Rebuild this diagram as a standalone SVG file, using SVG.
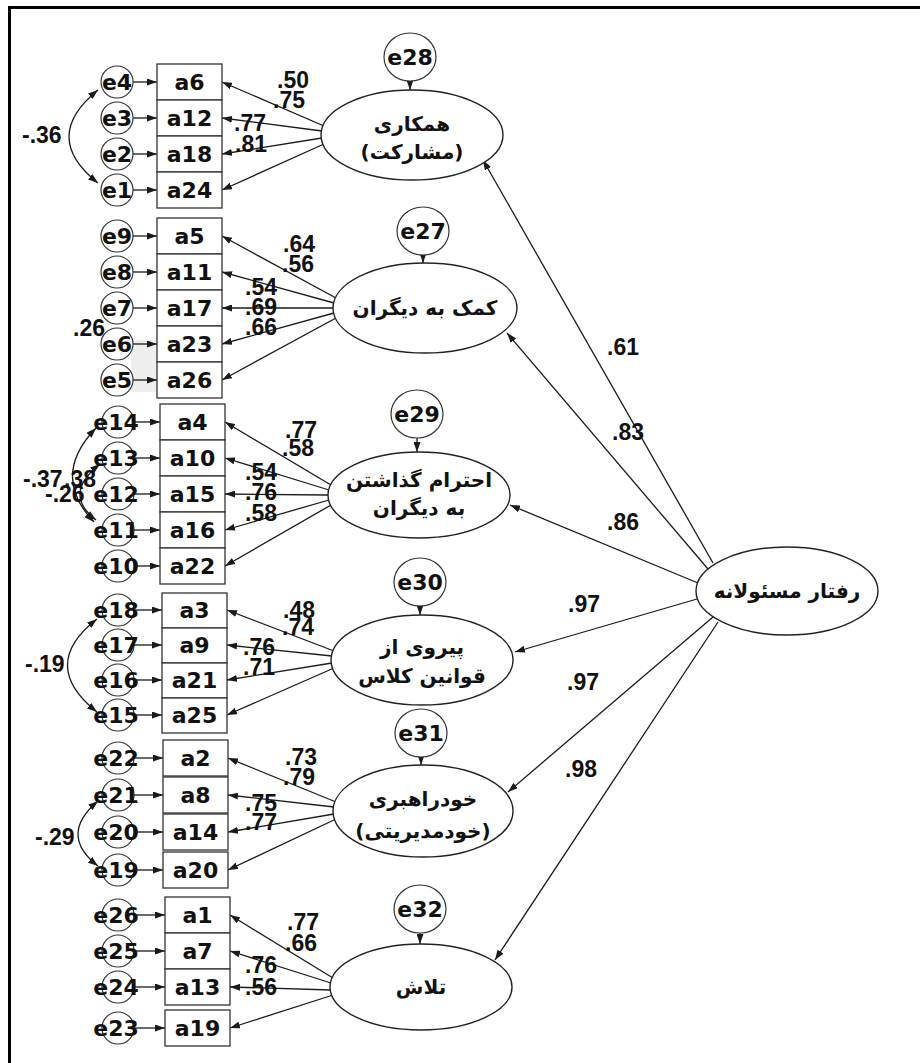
<svg xmlns="http://www.w3.org/2000/svg" width="920" height="1063" viewBox="0 0 920 1063">
<style>
.ln{stroke:#1a1a1a;stroke-width:1.3;fill:none}
.ar{marker-end:url(#ah)}
.cv{stroke:#1a1a1a;stroke-width:1.3;fill:none;marker-start:url(#ah);marker-end:url(#ah)}
.box{fill:#fff;stroke:#333;stroke-width:1.3}
.ec{fill:#fff;stroke:#333;stroke-width:1.2}
.lat{fill:#fff;stroke:#222;stroke-width:1.4}
.t{font-family:"DejaVu Sans",sans-serif;font-weight:bold;font-size:22px;text-anchor:middle;fill:#111}
.w{font-family:"Liberation Sans",Arial,sans-serif;font-weight:bold;font-size:23px;fill:#111}
.fa{font-family:"DejaVu Sans",sans-serif;font-weight:bold;font-size:20px;text-anchor:middle;fill:#111}
</style>
<defs>
<marker id="ah" viewBox="0 0 10 7" refX="10" refY="3.5" markerWidth="10" markerHeight="7" markerUnits="userSpaceOnUse" orient="auto-start-reverse"><path d="M0,0 L10,3.5 L0,7 z" fill="#1a1a1a"/></marker>
</defs>
<rect width="920" height="1063" fill="#fff"/>
<g id="frame"><line x1="8" y1="7.5" x2="920" y2="7.5" stroke="#000" stroke-width="3"/><line x1="9.5" y1="6" x2="9.5" y2="1063" stroke="#000" stroke-width="3"/></g>
<rect x="131" y="340" width="26" height="52" fill="#eeeeee"/>
<g id="connectors">
<line class="ln ar" x1="713" y1="563" x2="483" y2="160"/>
<line class="ln ar" x1="708" y1="569" x2="507" y2="333"/>
<line class="ln ar" x1="698" y1="583" x2="510" y2="505"/>
<line class="ln ar" x1="697" y1="599" x2="515" y2="652"/>
<line class="ln ar" x1="713" y1="617" x2="508" y2="792"/>
<line class="ln ar" x1="718" y1="622" x2="495" y2="960"/>
<line class="ln ar" x1="410" y1="81" x2="410" y2="90"/>
<line class="ln ar" x1="423" y1="255" x2="423" y2="263"/>
<line class="ln ar" x1="417" y1="438" x2="417" y2="452"/>
<line class="ln ar" x1="420" y1="606" x2="420" y2="615"/>
<line class="ln ar" x1="421" y1="757" x2="421" y2="765"/>
<line class="ln ar" x1="420" y1="933" x2="420" y2="944"/>
<line class="ln ar" x1="324" y1="126" x2="222" y2="82"/>
<line class="ln ar" x1="322" y1="131" x2="222" y2="118"/>
<line class="ln ar" x1="322" y1="138" x2="222" y2="154"/>
<line class="ln ar" x1="324" y1="144" x2="222" y2="190"/>
<line class="ln ar" x1="336" y1="298" x2="222" y2="236"/>
<line class="ln ar" x1="334" y1="303" x2="222" y2="272"/>
<line class="ln ar" x1="333" y1="308" x2="222" y2="308"/>
<line class="ln ar" x1="334" y1="313" x2="222" y2="344"/>
<line class="ln ar" x1="336" y1="318" x2="222" y2="380"/>
<line class="ln ar" x1="331" y1="485" x2="225" y2="422"/>
<line class="ln ar" x1="329" y1="490" x2="225" y2="458"/>
<line class="ln ar" x1="328" y1="495" x2="225" y2="494"/>
<line class="ln ar" x1="329" y1="500" x2="225" y2="530"/>
<line class="ln ar" x1="331" y1="505" x2="225" y2="566"/>
<line class="ln ar" x1="334" y1="651" x2="227" y2="610"/>
<line class="ln ar" x1="332" y1="656" x2="227" y2="645"/>
<line class="ln ar" x1="332" y1="663" x2="227" y2="680"/>
<line class="ln ar" x1="334" y1="668" x2="227" y2="715"/>
<line class="ln ar" x1="336" y1="802" x2="228" y2="758"/>
<line class="ln ar" x1="334" y1="807" x2="228" y2="795"/>
<line class="ln ar" x1="334" y1="814" x2="228" y2="832"/>
<line class="ln ar" x1="336" y1="819" x2="228" y2="870"/>
<line class="ln ar" x1="333" y1="978" x2="230" y2="915"/>
<line class="ln ar" x1="331" y1="983" x2="230" y2="951"/>
<line class="ln ar" x1="331" y1="990" x2="230" y2="987"/>
<line class="ln ar" x1="333" y1="995" x2="230" y2="1028"/>
<line class="ln ar" x1="133" y1="82" x2="157" y2="82"/>
<line class="ln ar" x1="133" y1="118" x2="157" y2="118"/>
<line class="ln ar" x1="133" y1="154" x2="157" y2="154"/>
<line class="ln ar" x1="133" y1="190" x2="157" y2="190"/>
<line class="ln ar" x1="133" y1="236" x2="157" y2="236"/>
<line class="ln ar" x1="133" y1="272" x2="157" y2="272"/>
<line class="ln ar" x1="133" y1="308" x2="157" y2="308"/>
<line class="ln ar" x1="133" y1="344" x2="157" y2="344"/>
<line class="ln ar" x1="133" y1="380" x2="157" y2="380"/>
<line class="ln ar" x1="133" y1="422" x2="160" y2="422"/>
<line class="ln ar" x1="133" y1="458" x2="160" y2="458"/>
<line class="ln ar" x1="133" y1="494" x2="160" y2="494"/>
<line class="ln ar" x1="133" y1="530" x2="160" y2="530"/>
<line class="ln ar" x1="133" y1="566" x2="160" y2="566"/>
<line class="ln ar" x1="133" y1="610" x2="162" y2="610"/>
<line class="ln ar" x1="133" y1="645" x2="162" y2="645"/>
<line class="ln ar" x1="133" y1="680" x2="162" y2="680"/>
<line class="ln ar" x1="133" y1="715" x2="162" y2="715"/>
<line class="ln ar" x1="133" y1="758" x2="163" y2="758"/>
<line class="ln ar" x1="133" y1="795" x2="163" y2="795"/>
<line class="ln ar" x1="133" y1="832" x2="163" y2="832"/>
<line class="ln ar" x1="133" y1="870" x2="163" y2="870"/>
<line class="ln ar" x1="133" y1="915" x2="165" y2="915"/>
<line class="ln ar" x1="133" y1="951" x2="165" y2="951"/>
<line class="ln ar" x1="133" y1="987" x2="165" y2="987"/>
<line class="ln ar" x1="133" y1="1028" x2="165" y2="1028"/>
<path class="cv" d="M98,90 Q40,137 98,183"/>
<path class="cv" d="M96,428 Q50,476 94,522"/>
<path class="cv" d="M100,464 Q62,494 96,520"/>
<path class="cv" d="M97,619 Q38,665 97,712"/>
<path class="cv" d="M98,801 Q58,835 98,866"/>
</g>
<g id="labels">
<text class="w" x="277" y="88">.50</text><text class="w" x="273" y="108">.75</text><text class="w" x="234" y="131">.77</text><text class="w" x="235" y="152">.81</text>
<text class="w" x="283" y="252">.64</text><text class="w" x="282" y="272">.56</text><text class="w" x="245" y="295">.54</text><text class="w" x="245" y="315">.69</text><text class="w" x="245" y="335">.66</text>
<text class="w" x="285" y="438">.77</text><text class="w" x="282" y="456">.58</text><text class="w" x="245" y="480">.54</text><text class="w" x="245" y="500">.76</text><text class="w" x="245" y="521">.58</text>
<text class="w" x="283" y="618">.48</text><text class="w" x="282" y="635">.74</text><text class="w" x="243" y="655">.76</text><text class="w" x="243" y="675">.71</text>
<text class="w" x="285" y="765">.73</text><text class="w" x="283" y="785">.79</text><text class="w" x="245" y="811">.75</text><text class="w" x="245" y="830">.77</text>
<text class="w" x="287" y="930">.77</text><text class="w" x="285" y="951">.66</text><text class="w" x="245" y="973">.76</text><text class="w" x="245" y="995">.56</text>
<text class="w" x="22" y="143">-.36</text>
<text class="w" x="73" y="336">.26</text>
<text class="w" x="23" y="487">-.37</text><text class="w" x="64" y="487">.38</text><text class="w" x="45" y="502">-.26</text>
<text class="w" x="25" y="672">-.19</text>
<text class="w" x="35" y="845">-.29</text>
<text class="w" x="607" y="355">.61</text><text class="w" x="612" y="440">.83</text><text class="w" x="607" y="530">.86</text>
<text class="w" x="568" y="612">.97</text><text class="w" x="567" y="690">.97</text><text class="w" x="565" y="777">.98</text>
</g>
<g id="F1"><ellipse class="lat" cx="412" cy="135" rx="91" ry="45"/><text class="fa" x="412" y="131">همکاری</text><text class="fa" x="412" y="159">(مشارکت)</text></g>
<g id="F2"><ellipse class="lat" cx="425" cy="308" rx="92" ry="45"/><text class="fa" x="425" y="315">کمک به دیگران</text></g>
<g id="F3"><ellipse class="lat" cx="419" cy="495" rx="91" ry="43"/><text class="fa" x="419" y="487">احترام گذاشتن</text><text class="fa" x="419" y="515">به دیگران</text></g>
<g id="F4"><ellipse class="lat" cx="422" cy="660" rx="91" ry="45"/><text class="fa" x="422" y="654">پیروی از</text><text class="fa" x="422" y="683">قوانین کلاس</text></g>
<g id="F5"><ellipse class="lat" cx="423" cy="811" rx="90" ry="46"/><text class="fa" x="423" y="806">خودراهبری</text><text class="fa" x="423" y="838">(خودمدیریتی)</text></g>
<g id="F6"><ellipse class="lat" cx="421" cy="987" rx="91" ry="43"/><text class="fa" x="421" y="994">تلاش</text></g>
<g id="F7"><ellipse class="lat" cx="787" cy="591" rx="91" ry="44"/><text class="fa" x="787" y="598">رفتار مسئولانه</text></g>
<g id="e28"><ellipse class="ec" cx="410" cy="57" rx="26" ry="24"/><text class="t" x="410" y="65">e28</text></g>
<g id="e27"><ellipse class="ec" cx="423" cy="231" rx="26" ry="24"/><text class="t" x="423" y="239">e27</text></g>
<g id="e29"><ellipse class="ec" cx="417" cy="414" rx="26" ry="24"/><text class="t" x="417" y="422">e29</text></g>
<g id="e30"><ellipse class="ec" cx="420" cy="582" rx="26" ry="24"/><text class="t" x="420" y="590">e30</text></g>
<g id="e31"><ellipse class="ec" cx="421" cy="733" rx="26" ry="24"/><text class="t" x="421" y="741">e31</text></g>
<g id="e32"><ellipse class="ec" cx="420" cy="909" rx="26" ry="24"/><text class="t" x="420" y="917">e32</text></g>
<g id="G1">
<g id="a6"><rect class="box" x="157" y="64" width="65" height="36"/><text class="t" x="189.5" y="90">a6</text></g>
<g id="a12"><rect class="box" x="157" y="100" width="65" height="36"/><text class="t" x="189.5" y="126">a12</text></g>
<g id="a18"><rect class="box" x="157" y="136" width="65" height="36"/><text class="t" x="189.5" y="162">a18</text></g>
<g id="a24"><rect class="box" x="157" y="172" width="65" height="36"/><text class="t" x="189.5" y="198">a24</text></g>
<g id="e4"><circle class="ec" cx="117" cy="82" r="16"/><text class="t" x="117" y="90">e4</text></g>
<g id="e3"><circle class="ec" cx="117" cy="118" r="16"/><text class="t" x="117" y="126">e3</text></g>
<g id="e2"><circle class="ec" cx="117" cy="154" r="16"/><text class="t" x="117" y="162">e2</text></g>
<g id="e1"><circle class="ec" cx="117" cy="190" r="16"/><text class="t" x="117" y="198">e1</text></g>
</g>
<g id="G2">
<g id="a5"><rect class="box" x="157" y="218" width="65" height="36"/><text class="t" x="189.5" y="244">a5</text></g>
<g id="a11"><rect class="box" x="157" y="254" width="65" height="36"/><text class="t" x="189.5" y="280">a11</text></g>
<g id="a17"><rect class="box" x="157" y="290" width="65" height="36"/><text class="t" x="189.5" y="316">a17</text></g>
<g id="a23"><rect class="box" x="157" y="326" width="65" height="36"/><text class="t" x="189.5" y="352">a23</text></g>
<g id="a26"><rect class="box" x="157" y="362" width="65" height="36"/><text class="t" x="189.5" y="388">a26</text></g>
<g id="e9"><circle class="ec" cx="117" cy="236" r="16"/><text class="t" x="117" y="244">e9</text></g>
<g id="e8"><circle class="ec" cx="117" cy="272" r="16"/><text class="t" x="117" y="280">e8</text></g>
<g id="e7"><circle class="ec" cx="117" cy="308" r="16"/><text class="t" x="117" y="316">e7</text></g>
<g id="e6"><circle class="ec" cx="117" cy="344" r="16"/><text class="t" x="117" y="352">e6</text></g>
<g id="e5"><circle class="ec" cx="117" cy="380" r="16"/><text class="t" x="117" y="388">e5</text></g>
</g>
<g id="G3">
<g id="a4"><rect class="box" x="160" y="404" width="65" height="36"/><text class="t" x="192.5" y="430">a4</text></g>
<g id="a10"><rect class="box" x="160" y="440" width="65" height="36"/><text class="t" x="192.5" y="466">a10</text></g>
<g id="a15"><rect class="box" x="160" y="476" width="65" height="36"/><text class="t" x="192.5" y="502">a15</text></g>
<g id="a16"><rect class="box" x="160" y="512" width="65" height="36"/><text class="t" x="192.5" y="538">a16</text></g>
<g id="a22"><rect class="box" x="160" y="548" width="65" height="36"/><text class="t" x="192.5" y="574">a22</text></g>
<g id="e14"><circle class="ec" cx="118" cy="422" r="16"/><text class="t" x="116" y="430">e14</text></g>
<g id="e13"><circle class="ec" cx="118" cy="458" r="16"/><text class="t" x="116" y="466">e13</text></g>
<g id="e12"><circle class="ec" cx="118" cy="494" r="16"/><text class="t" x="116" y="502">e12</text></g>
<g id="e11"><circle class="ec" cx="118" cy="530" r="16"/><text class="t" x="116" y="538">e11</text></g>
<g id="e10"><circle class="ec" cx="118" cy="566" r="16"/><text class="t" x="116" y="574">e10</text></g>
</g>
<g id="G4">
<g id="a3"><rect class="box" x="162" y="593" width="65" height="35"/><text class="t" x="194.5" y="618">a3</text></g>
<g id="a9"><rect class="box" x="162" y="628" width="65" height="35"/><text class="t" x="194.5" y="653">a9</text></g>
<g id="a21"><rect class="box" x="162" y="663" width="65" height="35"/><text class="t" x="194.5" y="688">a21</text></g>
<g id="a25"><rect class="box" x="162" y="698" width="65" height="35"/><text class="t" x="194.5" y="723">a25</text></g>
<g id="e18"><circle class="ec" cx="118" cy="610" r="16"/><text class="t" x="116" y="618">e18</text></g>
<g id="e17"><circle class="ec" cx="118" cy="645" r="16"/><text class="t" x="116" y="653">e17</text></g>
<g id="e16"><circle class="ec" cx="118" cy="680" r="16"/><text class="t" x="116" y="688">e16</text></g>
<g id="e15"><circle class="ec" cx="118" cy="715" r="16"/><text class="t" x="116" y="723">e15</text></g>
</g>
<g id="G5">
<g id="a2"><rect class="box" x="163" y="740" width="65" height="36"/><text class="t" x="195.5" y="766">a2</text></g>
<g id="a8"><rect class="box" x="163" y="777" width="65" height="36"/><text class="t" x="195.5" y="803">a8</text></g>
<g id="a14"><rect class="box" x="163" y="814" width="65" height="36"/><text class="t" x="195.5" y="840">a14</text></g>
<g id="a20"><rect class="box" x="163" y="852" width="65" height="36"/><text class="t" x="195.5" y="878">a20</text></g>
<g id="e22"><circle class="ec" cx="118" cy="758" r="16"/><text class="t" x="116" y="766">e22</text></g>
<g id="e21"><circle class="ec" cx="118" cy="795" r="16"/><text class="t" x="116" y="803">e21</text></g>
<g id="e20"><circle class="ec" cx="118" cy="832" r="16"/><text class="t" x="116" y="840">e20</text></g>
<g id="e19"><circle class="ec" cx="118" cy="870" r="16"/><text class="t" x="116" y="878">e19</text></g>
</g>
<g id="G6">
<g id="a1"><rect class="box" x="165" y="897" width="65" height="36"/><text class="t" x="197.5" y="923">a1</text></g>
<g id="a7"><rect class="box" x="165" y="933" width="65" height="36"/><text class="t" x="197.5" y="959">a7</text></g>
<g id="a13"><rect class="box" x="165" y="969" width="65" height="36"/><text class="t" x="197.5" y="995">a13</text></g>
<g id="a19"><rect class="box" x="165" y="1010" width="65" height="36"/><text class="t" x="197.5" y="1036">a19</text></g>
<g id="e26"><circle class="ec" cx="118" cy="915" r="16"/><text class="t" x="116" y="923">e26</text></g>
<g id="e25"><circle class="ec" cx="118" cy="951" r="16"/><text class="t" x="116" y="959">e25</text></g>
<g id="e24"><circle class="ec" cx="118" cy="987" r="16"/><text class="t" x="116" y="995">e24</text></g>
<g id="e23"><circle class="ec" cx="118" cy="1028" r="16"/><text class="t" x="116" y="1036">e23</text></g>
</g>
</svg>
